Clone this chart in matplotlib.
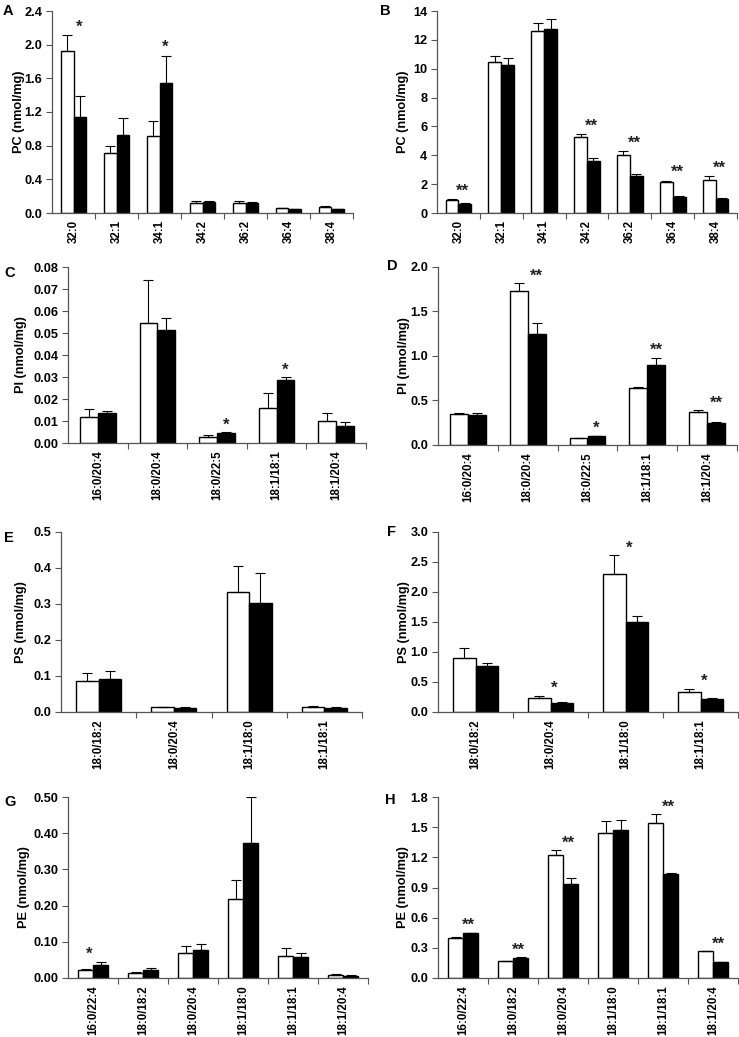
import matplotlib
matplotlib.use('Agg')
import matplotlib.pyplot as plt
import numpy as np

plt.rcParams['font.family'] = ['Liberation Sans', 'DejaVu Sans']

# ---------------- data ----------------
A_categories = ['32:0', '32:1', '34:1', '34:2', '36:2', '36:4', '38:4']
A_ctrl = [1.93, 0.71, 0.92, 0.12, 0.12, 0.06, 0.07]
A_ctrl_sem = [0.18, 0.09, 0.17, 0.02, 0.02, 0.005, 0.01]
A_trt = [1.14, 0.93, 1.54, 0.13, 0.12, 0.05, 0.05]
A_trt_sem = [0.25, 0.20, 0.33, 0.01, 0.005, 0.003, 0.003]
A_sig = ['*', '', '*', '', '', '', '']

B_categories = ['32:0', '32:1', '34:1', '34:2', '36:2', '36:4', '38:4']
B_ctrl = [0.92, 10.45, 12.6, 5.26, 4.01, 2.12, 2.31]
B_ctrl_sem = [0.04, 0.45, 0.6, 0.21, 0.26, 0.12, 0.23]
B_trt = [0.62, 10.29, 12.75, 3.57, 2.54, 1.13, 0.99]
B_trt_sem = [0.04, 0.43, 0.7, 0.23, 0.18, 0.07, 0.07]
B_sig = ['**', '', '', '**', '**', '**', '**']

C_categories = ['16:0/20:4', '18:0/20:4', '18:0/22:5', '18:1/18:1', '18:1/20:4']
C_ctrl = [0.012, 0.0545, 0.0028, 0.016, 0.010]
C_ctrl_sem = [0.0035, 0.0195, 0.0009, 0.0068, 0.0037]
C_trt = [0.0138, 0.0515, 0.0045, 0.0287, 0.0077]
C_trt_sem = [0.0007, 0.0055, 0.0005, 0.0013, 0.002]
C_sig = ['', '', '*', '*', '']

D_categories = ['16:0/20:4', '18:0/20:4', '18:0/22:5', '18:1/18:1', '18:1/20:4']
D_ctrl = [0.35, 1.73, 0.08, 0.64, 0.375]
D_ctrl_sem = [0.015, 0.085, 0.003, 0.01, 0.018]
D_trt = [0.34, 1.25, 0.10, 0.90, 0.25]
D_trt_sem = [0.015, 0.12, 0.005, 0.08, 0.012]
D_sig = ['', '**', '*', '**', '**']

E_categories = ['18:0/18:2', '18:0/20:4', '18:1/18:0', '18:1/18:1']
E_ctrl = [0.086, 0.013, 0.333, 0.014]
E_ctrl_sem = [0.023, 0.002, 0.073, 0.003]
E_trt = [0.092, 0.011, 0.304, 0.010]
E_trt_sem = [0.022, 0.002, 0.081, 0.003]
E_sig = ['', '', '', '']

F_categories = ['18:0/18:2', '18:0/20:4', '18:1/18:0', '18:1/18:1']
F_ctrl = [0.90, 0.23, 2.30, 0.33]
F_ctrl_sem = [0.17, 0.04, 0.31, 0.06]
F_trt = [0.77, 0.155, 1.50, 0.216]
F_trt_sem = [0.05, 0.011, 0.10, 0.022]
F_sig = ['', '*', '*', '*']

G_categories = ['16:0/22:4', '18:0/18:2', '18:0/20:4', '18:1/18:0', '18:1/18:1', '18:1/20:4']
G_ctrl = [0.021, 0.013, 0.069, 0.218, 0.062, 0.008]
G_ctrl_sem = [0.005, 0.003, 0.019, 0.052, 0.022, 0.002]
G_trt = [0.037, 0.022, 0.076, 0.374, 0.059, 0.006]
G_trt_sem = [0.008, 0.007, 0.018, 0.126, 0.009, 0.001]
G_sig = ['*', '', '', '', '', '']

H_categories = ['16:0/22:4', '18:0/18:2', '18:0/20:4', '18:1/18:0', '18:1/18:1', '18:1/20:4']
H_ctrl = [0.40, 0.165, 1.22, 1.44, 1.545, 0.264]
H_ctrl_sem = [0.01, 0.0, 0.05, 0.12, 0.085, 0.0]
H_trt = [0.443, 0.20, 0.93, 1.47, 1.034, 0.162]
H_trt_sem = [0.006, 0.005, 0.06, 0.105, 0.006, 0.0]
H_sig = ['**', '**', '**', '', '**', '**']

# ---------------- layout ----------------
W, H = 739, 1037
fig = plt.figure(figsize=(W / 100, H / 100), dpi=100)

panels = [
    # letter, cats, ctrl, ctrl_sem, trt, trt_sem, sig, ylabel, ymax, step, fmt, box(l,t,r,b), ylabel_x, letter_xy, star_dx
    ('A', A_categories, A_ctrl, A_ctrl_sem, A_trt, A_trt_sem, A_sig, 'PC (nmol/mg)', 2.4, 0.4, '{:.1f}',
     (52, 11, 353, 213), 19, (3, 11), 0.13),
    ('B', B_categories, B_ctrl, B_ctrl_sem, B_trt, B_trt_sem, B_sig, 'PC (nmol/mg)', 14, 2, '{:.0f}',
     (437, 11, 737, 213), 403, (380, 11), 0.1),
    ('C', C_categories, C_ctrl, C_ctrl_sem, C_trt, C_trt_sem, C_sig, 'PI (nmol/mg)', 0.08, 0.01, '{:.2f}',
     (68, 267, 366, 443), 21, (4, 273), 0.15),
    ('D', D_categories, D_ctrl, D_ctrl_sem, D_trt, D_trt_sem, D_sig, 'PI (nmol/mg)', 2.0, 0.5, '{:.1f}',
     (438, 267, 737, 445), 404, (387, 266), 0.15),
    ('E', E_categories, E_ctrl, E_ctrl_sem, E_trt, E_trt_sem, E_sig, 'PS (nmol/mg)', 0.5, 0.1, '{:.1f}',
     (61, 532, 362, 712), 21, (4, 538), 0.1),
    ('F', F_categories, F_ctrl, F_ctrl_sem, F_trt, F_trt_sem, F_sig, 'PS (nmol/mg)', 3.0, 0.5, '{:.1f}',
     (438, 532, 738, 712), 404, (387, 532), 0.05),
    ('G', G_categories, G_ctrl, G_ctrl_sem, G_trt, G_trt_sem, G_sig, 'PE (nmol/mg)', 0.50, 0.10, '{:.2f}',
     (68, 797, 368, 978), 24, (4, 802), -0.08),
    ('H', H_categories, H_ctrl, H_ctrl_sem, H_trt, H_trt_sem, H_sig, 'PE (nmol/mg)', 1.8, 0.3, '{:.1f}',
     (438, 797, 738, 978), 403, (385, 800), 0.1),
]

w = 0.3
for (letter, cats, ctrl, csem, trt, tsem, sig, ylab, ymax, step, fmt,
     box, ylx, lxy, sdx) in panels:
    l, t, r, b = box
    ax = fig.add_axes([l / W, 1 - b / H, (r - l) / W, (b - t) / H])
    n = len(cats)
    x = np.arange(n)
    ctrl = np.array(ctrl); trt = np.array(trt)
    csem = np.array(csem); tsem = np.array(tsem)
    ax.bar(x - w / 2, ctrl, w, color='white', edgecolor='black', linewidth=1.0, zorder=2)
    ax.bar(x + w / 2, trt, w, color='black', edgecolor='black', linewidth=1.0, zorder=2)
    ax.errorbar(x - w / 2, ctrl, yerr=[np.zeros(n), csem], fmt='none', ecolor='black',
                elinewidth=0.8, capsize=3.5, capthick=0.8, zorder=3)
    ax.errorbar(x + w / 2, trt, yerr=[np.zeros(n), tsem], fmt='none', ecolor='black',
                elinewidth=0.8, capsize=3.5, capthick=0.8, zorder=3)
    ax.set_xlim(-0.5, n - 0.5)
    ax.set_ylim(0, ymax)
    yt = np.arange(0, ymax + step / 2, step)
    ax.set_yticks(yt)
    ax.set_yticklabels([fmt.format(v) for v in yt], fontsize=9.2, fontweight='bold')
    ax.set_xticks(np.arange(n) + 0.5)
    ax.set_xticklabels([''] * n)
    ax.set_xticks(x, minor=True)
    ax.set_xticklabels(cats, minor=True, rotation=90, fontsize=8.3, fontweight='bold')
    ax.tick_params(axis='x', which='major', length=4, width=0.8, direction='out', color='#555555')
    ax.tick_params(axis='x', which='minor', length=0, pad=5)
    ax.tick_params(axis='y', length=4, width=0.8, direction='out', pad=3, color='#555555')
    for s in ['top', 'right']:
        ax.spines[s].set_visible(False)
    for s in ['left', 'bottom']:
        ax.spines[s].set_linewidth(0.9)
        ax.spines[s].set_color('#555555')
    ax.set_ylabel(ylab, fontsize=9.2, fontweight='bold', ha='center', va='center')
    ax.yaxis.set_label_coords((ylx - l) / (r - l), 0.5)
    tops = np.maximum(ctrl + csem, trt + tsem)
    for i, s in enumerate(sig):
        if s:
            ax.text(i + sdx, tops[i] + 0.04 * ymax, s,
                    ha='center', va='center', fontsize=12, fontweight='bold',
                    color='#222222', clip_on=False)
    fig.text(lxy[0] / W, 1 - lxy[1] / H, letter, fontsize=10.5, fontweight='bold',
             ha='left', va='center')

fig.savefig('out.png', dpi=100)
